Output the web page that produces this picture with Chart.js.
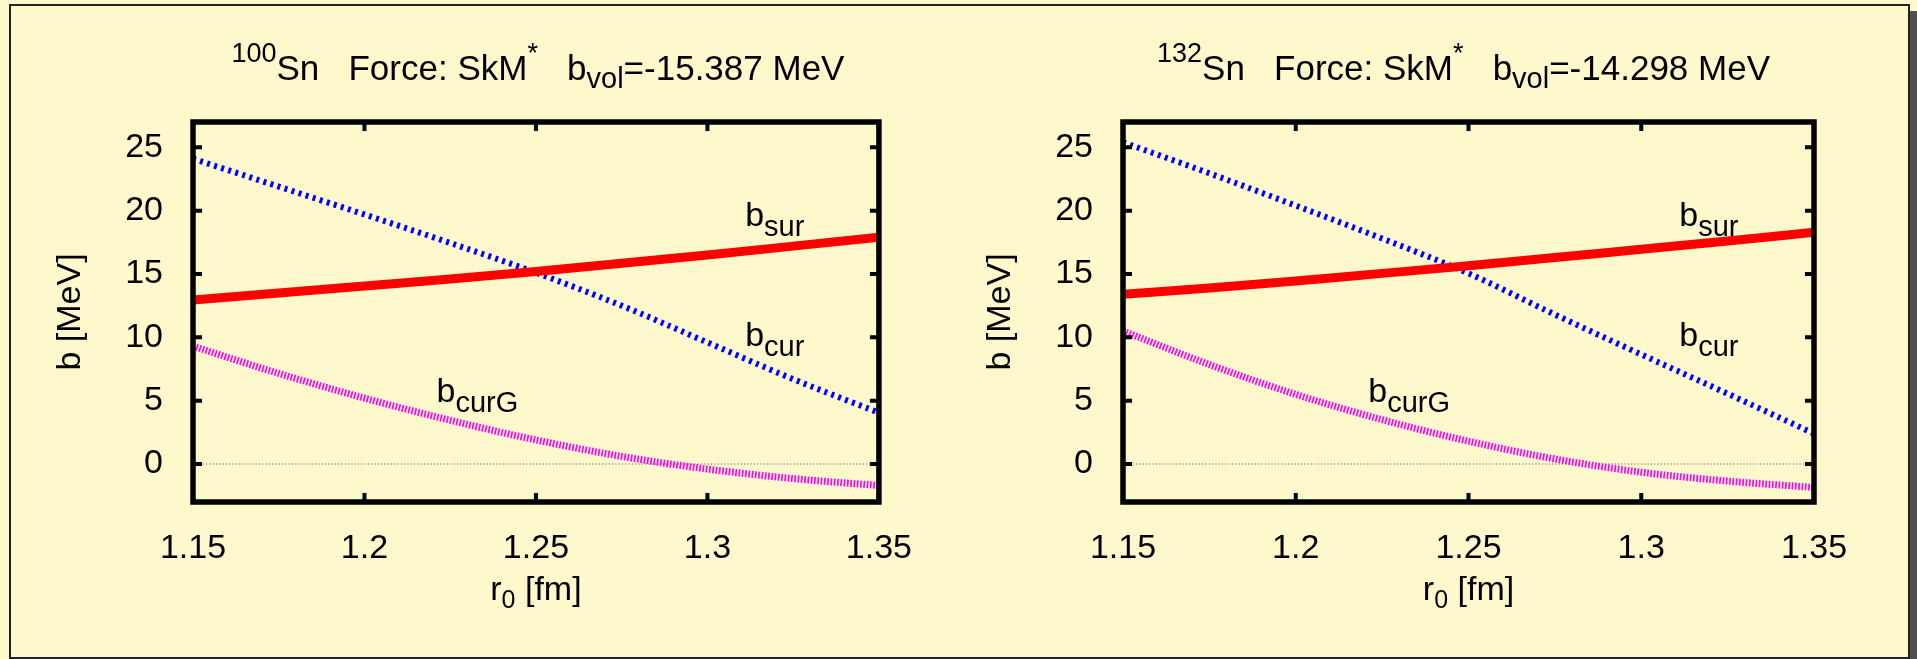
<!DOCTYPE html>
<html>
<head>
<meta charset="utf-8">
<script src="https://cdn.jsdelivr.net/npm/chart.js@4.4.0/dist/chart.umd.min.js"></script>
<style>
  html, body { margin: 0; padding: 0; }
  body { width: 1917px; height: 659px; background: #fdf9cc; position: relative; overflow: hidden; }
  .frame { position: absolute; left: 9px; top: 4px; width: 1897px; height: 651px; border: 2px solid #222; box-shadow: 7px 7px 0 #505050; }
  canvas { position: absolute; top: 0; }
  #left { left: 0; }
  #right { left: 930px; }
</style>
</head>
<body>
<div class="frame"></div>
<canvas id="left" width="930" height="659"></canvas>
<canvas id="right" width="987" height="659"></canvas>
<script>
// r0 [fm] sample points
const rValues = [1.15, 1.175, 1.2, 1.225, 1.25, 1.275, 1.3, 1.325, 1.35];
const xTicks = [1.15, 1.2, 1.25, 1.3, 1.35];
const xTickLabels = ['1.15', '1.2', '1.25', '1.3', '1.35'];
const yTicks = [0, 5, 10, 15, 20, 25];
const yTickLabels = ['0', '5', '10', '15', '20', '25'];

// 100Sn, SkM*
const sn100Sur  = [12.95, 13.5, 14.05, 14.6, 15.2, 15.85, 16.5, 17.2, 17.9];
const sn100Cur  = [24.1, 21.9, 19.7, 17.45, 15.1, 12.5, 9.6, 6.7, 4.05];
const sn100CurG = [9.3, 7.15, 5.2, 3.45, 1.9, 0.6, -0.4, -1.15, -1.7];

// 132Sn, SkM*
const sn132Sur  = [13.4, 13.9, 14.45, 15.05, 15.65, 16.3, 16.95, 17.6, 18.3];
const sn132Cur  = [25.4, 22.95, 20.4, 17.8, 15.05, 11.8, 8.65, 5.55, 2.4];
const sn132CurG = [10.5, 7.85, 5.5, 3.5, 1.8, 0.4, -0.65, -1.35, -1.85];

const FONT = '"Liberation Sans", Arial, Helvetica, sans-serif';

function partFont(p) {
  return (p.size || 34) + 'px ' + FONT;
}

function richWidth(ctx, parts) {
  let w = 0;
  for (const p of parts) {
    ctx.font = partFont(p);
    w += ctx.measureText(p.t).width;
  }
  return w;
}

function drawRich(ctx, parts, x, y) {
  ctx.textAlign = 'left';
  ctx.textBaseline = 'alphabetic';
  ctx.fillStyle = '#000';
  for (const p of parts) {
    ctx.font = partFont(p);
    ctx.fillText(p.t, x, y + (p.dy || 0));
    x += ctx.measureText(p.t).width;
  }
}

const sup = t => ({ t, size: 27, dy: -18 });
const sub = t => ({ t, size: 29, dy: 10 });
const big = t => ({ t, size: 35 });

const panelDecor = {
  id: 'panelDecor',
  beforeDatasetsDraw(chart, args, opts) {
    const { ctx, chartArea: a, scales } = chart;
    const y0 = scales.y.getPixelForValue(0);
    ctx.save();
    ctx.strokeStyle = '#444';
    ctx.lineWidth = 1;
    ctx.setLineDash([1, 2.3]);
    ctx.beginPath();
    ctx.moveTo(a.left, y0);
    ctx.lineTo(a.right, y0);
    ctx.stroke();
    ctx.restore();
  },
  afterDatasetsDraw(chart, args, opts) {
    const { ctx, chartArea: a, scales } = chart;
    ctx.save();
    // border
    ctx.strokeStyle = '#000';
    ctx.lineWidth = 5.5;
    ctx.strokeRect(a.left, a.top, a.right - a.left, a.bottom - a.top);
    // inward ticks on all four sides
    ctx.lineWidth = 4;
    ctx.beginPath();
    for (const v of xTicks) {
      const px = scales.x.getPixelForValue(v);
      ctx.moveTo(px, a.bottom); ctx.lineTo(px, a.bottom - 9);
      ctx.moveTo(px, a.top); ctx.lineTo(px, a.top + 9);
    }
    for (const v of yTicks) {
      const py = scales.y.getPixelForValue(v);
      ctx.moveTo(a.left, py); ctx.lineTo(a.left + 9, py);
      ctx.moveTo(a.right, py); ctx.lineTo(a.right - 9, py);
    }
    ctx.stroke();

    // curve labels
    for (const l of opts.labels) {
      drawRich(ctx, [{ t: 'b' }, sub(l.sub)], scales.x.getPixelForValue(l.x), scales.y.getPixelForValue(l.y));
    }

    // title
    const cx = (a.left + a.right) / 2;
    const tw = richWidth(ctx, opts.title);
    drawRich(ctx, opts.title, cx - tw / 2 + opts.titleShift, 80);

    // x axis title
    const xt = [{ t: 'r' }, { t: '0', size: 25, dy: 8 }, { t: ' [fm]' }];
    drawRich(ctx, xt, cx - richWidth(ctx, xt) / 2, a.bottom + 98);

    // y axis title
    const yt = [{ t: 'b [MeV]' }];
    ctx.translate(a.left - 113, (a.top + a.bottom) / 2);
    ctx.rotate(-Math.PI / 2);
    drawRich(ctx, yt, -richWidth(ctx, yt) / 2, 0);
    ctx.restore();
  }
};

function makePanel(id, title, titleShift, sur, cur, curG) {
  const canvas = document.getElementById(id);
  return new Chart(canvas.getContext('2d'), {
    type: 'line',
    data: {
      datasets: [
        {
          label: 'b_sur',
          data: rValues.map((r, i) => ({ x: r, y: sur[i] })),
          borderColor: '#ff0000',
          borderWidth: 9,
          pointRadius: 0,
          cubicInterpolationMode: 'monotone'
        },
        {
          label: 'b_cur',
          data: rValues.map((r, i) => ({ x: r, y: cur[i] })),
          borderColor: '#0000ff',
          borderWidth: 6,
          borderDash: [3, 4.4],
          borderCapStyle: 'butt',
          pointRadius: 0,
          cubicInterpolationMode: 'monotone'
        },
        {
          label: 'b_curG',
          data: rValues.map((r, i) => ({ x: r, y: curG[i] })),
          borderColor: '#ff00ff',
          borderWidth: 7,
          borderDash: [1.7, 1.6],
          borderCapStyle: 'butt',
          pointRadius: 0,
          cubicInterpolationMode: 'monotone'
        }
      ]
    },
    options: {
      responsive: false,
      animation: false,
      devicePixelRatio: 1,
      layout: {
        padding: { left: 0, top: 122, right: canvas.width - 884, bottom: 0 }
      },
      plugins: {
        legend: { display: false },
        tooltip: { enabled: false },
        panelDecor: {
          title,
          titleShift,
          labels: [
            { sub: 'sur', x: 1.311, y: 18.8 },
            { sub: 'cur', x: 1.311, y: 9.35 },
            { sub: 'curG', x: 1.221, y: 4.9 }
          ]
        }
      },
      scales: {
        x: {
          type: 'linear',
          min: 1.15,
          max: 1.35,
          grid: { display: false },
          border: { display: false },
          afterBuildTicks: s => { s.ticks = xTicks.map(v => ({ value: v })); },
          afterFit: s => { s.height = 157; },
          ticks: {
            autoSkip: false,
            maxRotation: 0,
            padding: 18,
            color: '#000',
            font: { family: FONT, size: 34 },
            callback: v => xTickLabels[xTicks.indexOf(v)]
          }
        },
        y: {
          type: 'linear',
          min: -3,
          max: 27,
          grid: { display: false },
          border: { display: false },
          afterBuildTicks: s => { s.ticks = yTicks.map(v => ({ value: v })); },
          afterFit: s => { s.width = 193; },
          ticks: {
            padding: 22,
            color: '#000',
            font: { family: FONT, size: 34 },
            callback: v => yTickLabels[yTicks.indexOf(v)]
          }
        }
      }
    },
    plugins: [panelDecor]
  });
}

makePanel('left',
  [sup('100'), big('Sn   Force: SkM'), sup('*'), big('   b'), { t: 'vol', size: 29, dy: 8 }, big('=-15.387 MeV')],
  2, sn100Sur, sn100Cur, sn100CurG);

makePanel('right',
  [sup('132'), big('Sn   Force: SkM'), sup('*'), big('   b'), { t: 'vol', size: 29, dy: 8 }, big('=-14.298 MeV')],
  -5, sn132Sur, sn132Cur, sn132CurG);
</script>
</body>
</html>
